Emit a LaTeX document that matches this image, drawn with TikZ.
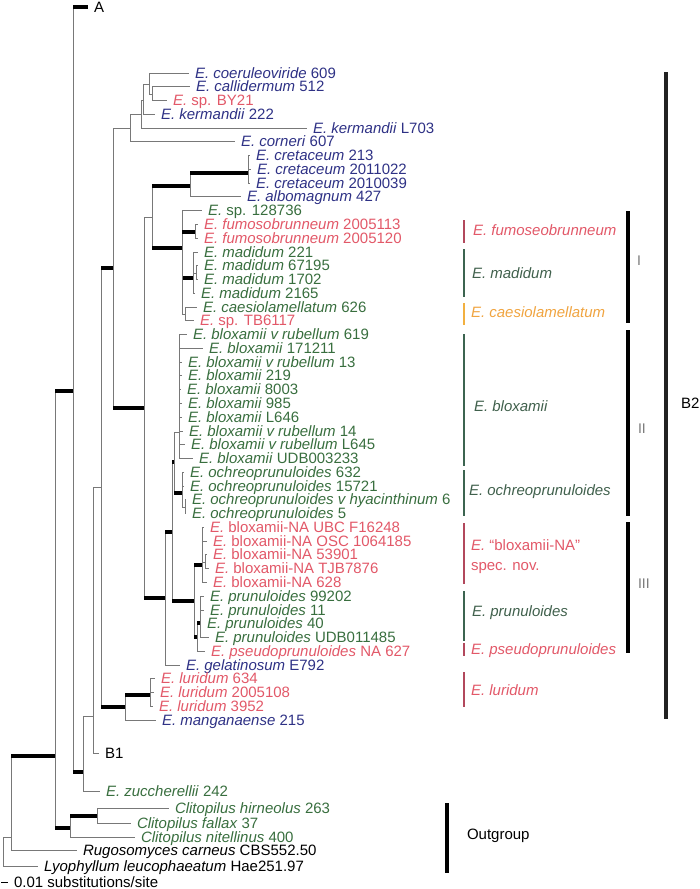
\documentclass[tikz,border=0pt]{standalone}
\usepackage{fontspec}
\setmainfont{Liberation Sans}
\usepackage{xcolor}
\usepackage{tikz}

\begin{document}
\begin{tikzpicture}[x=1pt,y=-1pt,every node/.style={inner ysep=0pt, outer sep=0pt, text height=11pt, text depth=1pt, font=\fontsize{15}{16}\selectfont},
  leaf/.style={anchor=west, inner xsep=6pt},
  grp/.style={anchor=west, inner xsep=0pt},
  br/.style={draw={rgb,255:red,120;green,120;blue,120}, line width=1pt},
  sup/.style={draw=black, line width=4pt},
  blu/.style={text={rgb,255:red,46;green,49;blue,133}},
  rd/.style={text={rgb,255:red,226;green,88;blue,104}},
  grn/.style={text={rgb,255:red,56;green,110;blue,62}},
  grg/.style={text={rgb,255:red,64;green,96;blue,76}},
  org/.style={text={rgb,255:red,240;green,164;blue,64}},
  rbar/.style={draw={rgb,255:red,178;green,72;blue,92}, line width=2pt},
  gbar/.style={draw={rgb,255:red,60;green,100;blue,80}, line width=2pt},
  obar/.style={draw={rgb,255:red,242;green,176;blue,64}, line width=2pt},
  kbar/.style={draw=black, line width=3.4pt},
  roman/.style={grp, text={rgb,255:red,120;green,120;blue,120}, font=\fontsize{14}{16}\selectfont}]
\useasboundingbox (0,0) rectangle (700,889);

\coordinate (R) at (3,851);
\coordinate (n11) at (11,837);
\coordinate (nO) at (55,756);
\coordinate (nAB) at (73,391);
\coordinate (nB) at (83,772);
\coordinate (nB2) at (93,716);
\coordinate (nC) at (101,487);
\coordinate (nD) at (113,268);
\coordinate (nE) at (130,128.5);
\coordinate (nE1) at (141,114.5);
\coordinate (nE2) at (143,100);
\coordinate (nE3) at (149,84);
\coordinate (nE4) at (152,94);
\coordinate (nF) at (144,408);
\coordinate (nG) at (152,217);
\coordinate (nCret) at (190,186);
\coordinate (nCret2) at (248,173);
\coordinate (nMad) at (182,248);
\coordinate (nFum) at (195,232);
\coordinate (nMd) at (193,278);
\coordinate (nMd2) at (196,273);
\coordinate (nCae) at (185,314);
\coordinate (nH) at (165,598);
\coordinate (nI) at (172,532);
\coordinate (nJ) at (174,462);
\coordinate (nBlox) at (179,432);
\coordinate (nOch) at (182,493);
\coordinate (nOch2) at (185,507);
\coordinate (nK) at (194,601);
\coordinate (nNA) at (202,565);
\coordinate (nNA2) at (205,562);
\coordinate (nP) at (197,637);
\coordinate (nP2) at (200,623);
\coordinate (nLur) at (125,707);
\coordinate (nLur2) at (150,695);
\coordinate (nClit) at (70,828);
\coordinate (nClit2) at (97,816);

\node[leaf] (A) at (88,7) {A};
\node[leaf,blu] (coe609) at (189,73) {\textit{E. coeruleoviride} 609};
\node[leaf,blu] (cal512) at (190,86.8) {\textit{E. callidermum} 512};
\node[leaf,rd] (spBY21) at (167,100.5) {\textit{E.} sp. BY21};
\node[leaf,blu] (ker222) at (155,114.3) {\textit{E. kermandii} 222};
\node[leaf,blu] (kerL703) at (307,128.1) {\textit{E. kermandii} L703};
\node[leaf,blu] (cor607) at (235,141.9) {\textit{E. corneri} 607};
\node[leaf,blu] (cre213) at (250,155.6) {\textit{E. cretaceum} 213};
\node[leaf,blu] (cre2011022) at (251,169.4) {\textit{E. cretaceum} 2011022};
\node[leaf,blu] (cre2010039) at (250,183.2) {\textit{E. cretaceum} 2010039};
\node[leaf,blu] (alb427) at (241,196.9) {\textit{E. albomagnum} 427};
\node[leaf,grn] (sp128736) at (202,210.7) {\textit{E.} sp. 128736};
\node[leaf,rd] (fum2005113) at (198,224.5) {\textit{E. fumosobrunneum} 2005113};
\node[leaf,rd] (fum2005120) at (198,238.2) {\textit{E. fumosobrunneum} 2005120};
\node[leaf,grn] (mad221) at (198,252) {\textit{E. madidum} 221};
\node[leaf,grn] (mad67195) at (198,265.8) {\textit{E. madidum} 67195};
\node[leaf,grn] (mad1702) at (198,279.6) {\textit{E. madidum} 1702};
\node[leaf,grn] (mad2165) at (195,293.3) {\textit{E. madidum} 2165};
\node[leaf,grn] (cae626) at (197,307.1) {\textit{E. caesiolamellatum} 626};
\node[leaf,rd] (spTB6117) at (194,320.9) {\textit{E.} sp. TB6117};
\node[leaf,grn] (blr619) at (187,334.6) {\textit{E. bloxamii v rubellum} 619};
\node[leaf,grn] (blo171211) at (203,348.4) {\textit{E. bloxamii} 171211};
\node[leaf,grn] (blr13) at (182,362.2) {\textit{E. bloxamii v rubellum} 13};
\node[leaf,grn] (blo219) at (182,375.9) {\textit{E. bloxamii} 219};
\node[leaf,grn] (blo8003) at (181,389.7) {\textit{E. bloxamii} 8003};
\node[leaf,grn] (blo985) at (182,403.5) {\textit{E. bloxamii} 985};
\node[leaf,grn] (bloL646) at (182,417.3) {\textit{E. bloxamii} L646};
\node[leaf,grn] (blr14) at (183,431) {\textit{E. bloxamii v rubellum} 14};
\node[leaf,grn] (blrL645) at (185,444.8) {\textit{E. bloxamii v rubellum} L645};
\node[leaf,grn] (bloUDB) at (193,458.6) {\textit{E. bloxamii} UDB003233};
\node[leaf,grn] (och632) at (184,472.3) {\textit{E. ochreoprunuloides} 632};
\node[leaf,grn] (och15721) at (184,486.1) {\textit{E. ochreoprunuloides} 15721};
\node[leaf,grn] (ochhya6) at (186,499.9) {\textit{E. ochreoprunuloides v hyacinthinum} 6};
\node[leaf,grn] (och5) at (186,513.6) {\textit{E. ochreoprunuloides} 5};
\node[leaf,rd] (naUBC) at (204,527.4) {\textit{E.} bloxamii-NA UBC F16248};
\node[leaf,rd] (naOSC) at (207,541.2) {\textit{E.} bloxamii-NA OSC 1064185};
\node[leaf,rd] (na53901) at (207,554.9) {\textit{E.} bloxamii-NA 53901};
\node[leaf,rd] (naTJB) at (209,568.7) {\textit{E.} bloxamii-NA TJB7876};
\node[leaf,rd] (na628) at (207,582.5) {\textit{E.} bloxamii-NA 628};
\node[leaf,grn] (pru99202) at (204,596.3) {\textit{E. prunuloides} 99202};
\node[leaf,grn] (pru11) at (204,610) {\textit{E. prunuloides} 11};
\node[leaf,grn] (pru40) at (201,623.8) {\textit{E. prunuloides} 40};
\node[leaf,grn] (pruUDB) at (209,637.6) {\textit{E. prunuloides} UDB011485};
\node[leaf,rd] (pse627) at (205,651.3) {\textit{E. pseudoprunuloides} NA 627};
\node[leaf,blu] (gelE792) at (180,665.1) {\textit{E. gelatinosum} E792};
\node[leaf,rd] (lur634) at (155,678.9) {\textit{E. luridum} 634};
\node[leaf,rd] (lur2005108) at (154,692.6) {\textit{E. luridum} 2005108};
\node[leaf,rd] (lur3952) at (153,706.4) {\textit{E. luridum} 3952};
\node[leaf,blu] (man215) at (156,720.2) {\textit{E. manganaense} 215};
\node[leaf] (B1) at (99,753) {B1};
\node[leaf,grn] (zuc242) at (100,791) {\textit{E. zuccherellii} 242};
\node[leaf,grn] (clihir) at (169,808.5) {\textit{Clitopilus hirneolus} 263};
\node[leaf,grn] (clifal) at (131,823) {\textit{Clitopilus fallax} 37};
\node[leaf,grn] (clinit) at (135,837.5) {\textit{Clitopilus nitellinus} 400};
\node[leaf] (rugo) at (77,850) {\textit{Rugosomyces carneus} CBS552.50};
\node[leaf] (lyo) at (38,866.5) {\textit{Lyophyllum leucophaeatum} Hae251.97};
\node[leaf] (scl) at (8,882.5) {0.01 substitutions/site};
\coordinate (scl0) at (1,882.5);

\draw[br] (R) |- (n11);
\draw[br] (R) |- (lyo.west);
\draw[br] (n11) |- (nO); \draw[sup] (n11 |- nO) -- (nO);
\draw[br] (n11) |- (rugo.west);
\draw[br] (nO) |- (nAB); \draw[sup] (nO |- nAB) -- (nAB);
\draw[br] (nO) |- (nClit); \draw[sup] (nO |- nClit) -- (nClit);
\draw[br] (nClit) |- (nClit2); \draw[sup] (nClit |- nClit2) -- (nClit2);
\draw[br] (nClit2) |- (clihir.west);
\draw[br] (nClit2) |- (clifal.west);
\draw[br] (nClit) |- (clinit.west);
\draw[br] (nAB) |- (A.west); \draw[sup] (nAB |- A.west) -- (A.west);
\draw[br] (nAB) |- (nB); \draw[sup] (nAB |- nB) -- (nB);
\draw[br] (nB) |- (nB2);
\draw[br] (nB) |- (zuc242.west);
\draw[br] (nB2) |- (nC);
\draw[br] (nB2) |- (B1.west);
\draw[br] (nC) |- (nD); \draw[sup] (nC |- nD) -- (nD);
\draw[br] (nC) |- (nLur); \draw[sup] (nC |- nLur) -- (nLur);
\draw[br] (nLur) |- (nLur2); \draw[sup] (nLur |- nLur2) -- (nLur2);
\draw[br] (nLur) |- (man215.west);
\draw[br] (nLur2) |- (lur634.west);
\draw[br] (nLur2) |- (lur2005108.west);
\draw[br] (nLur2) |- (lur3952.west);
\draw[br] (nD) |- (nE);
\draw[br] (nD) |- (nF); \draw[sup] (nD |- nF) -- (nF);
\draw[br] (nE) |- (nE1);
\draw[br] (nE) |- (cor607.west);
\draw[br] (nE1) |- (nE2);
\draw[br] (nE1) |- (kerL703.west);
\draw[br] (nE2) |- (nE3);
\draw[br] (nE2) |- (ker222.west);
\draw[br] (nE3) |- (coe609.west);
\draw[br] (nE3) |- (nE4);
\draw[br] (nE4) |- (cal512.west);
\draw[br] (nE4) |- (spBY21.west);
\draw[br] (nF) |- (nG);
\draw[br] (nF) |- (nH); \draw[sup] (nF |- nH) -- (nH);
\draw[br] (nG) |- (nCret); \draw[sup] (nG |- nCret) -- (nCret);
\draw[br] (nG) |- (nMad); \draw[sup] (nG |- nMad) -- (nMad);
\draw[br] (nCret) |- (nCret2); \draw[sup] (nCret |- nCret2) -- (nCret2);
\draw[br] (nCret) |- (alb427.west);
\draw[br] (nCret2) |- (cre213.west);
\draw[br] (nCret2) |- (cre2011022.west);
\draw[br] (nCret2) |- (cre2010039.west);
\draw[br] (nMad) |- (sp128736.west);
\draw[br] (nMad) |- (nFum); \draw[sup] (nMad |- nFum) -- (nFum);
\draw[br] (nMad) |- (nMd); \draw[sup] (nMad |- nMd) -- (nMd);
\draw[br] (nMad) |- (nCae);
\draw[br] (nFum) |- (fum2005113.west);
\draw[br] (nFum) |- (fum2005120.west);
\draw[br] (nMd) |- (mad221.west);
\draw[br] (nMd) |- (nMd2);
\draw[br] (nMd2) |- (mad67195.west);
\draw[br] (nMd2) |- (mad1702.west);
\draw[br] (nMd) |- (mad2165.west);
\draw[br] (nCae) |- (cae626.west);
\draw[br] (nCae) |- (spTB6117.west);
\draw[br] (nH) |- (nI); \draw[sup] (nH |- nI) -- (nI);
\draw[br] (nH) |- (gelE792.west);
\draw[br] (nI) |- (nJ); \draw[sup] (nI |- nJ) -- (nJ);
\draw[br] (nI) |- (nK); \draw[sup] (nI |- nK) -- (nK);
\draw[br] (nJ) |- (nBlox);
\draw[br] (nJ) |- (nOch); \draw[sup] (nJ |- nOch) -- (nOch);
\draw[br] (nBlox) |- (blr619.west);
\draw[br] (nBlox) |- (blo171211.west);
\draw[br] (nBlox) |- (blr13.west);
\draw[br] (nBlox) |- (blo219.west);
\draw[br] (nBlox) |- (blo8003.west);
\draw[br] (nBlox) |- (blo985.west);
\draw[br] (nBlox) |- (bloL646.west);
\draw[br] (nBlox) |- (blr14.west);
\draw[br] (nBlox) |- (blrL645.west);
\draw[br] (nBlox) |- (bloUDB.west);
\draw[br] (nOch) |- (och632.west);
\draw[br] (nOch) |- (och15721.west);
\draw[br] (nOch) |- (nOch2);
\draw[br] (nOch2) |- (ochhya6.west);
\draw[br] (nOch2) |- (och5.west);
\draw[br] (nK) |- (nNA); \draw[sup] (nK |- nNA) -- (nNA);
\draw[br] (nK) |- (nP); \draw[sup] (nK |- nP) -- (nP);
\draw[br] (nNA) |- (naUBC.west);
\draw[br] (nNA) |- (naOSC.west);
\draw[br] (nNA) |- (nNA2);
\draw[br] (nNA2) |- (na53901.west);
\draw[br] (nNA2) |- (naTJB.west);
\draw[br] (nNA) |- (na628.west);
\draw[br] (nP) |- (nP2); \draw[sup] (nP |- nP2) -- (nP2);
\draw[br] (nP) |- (pse627.west);
\draw[br] (nP2) |- (pru99202.west);
\draw[br] (nP2) |- (pru11.west);
\draw[br] (nP2) |- (pru40.west);
\draw[br] (nP2) |- (pruUDB.west);
\draw[br,draw=black] (scl0) -- (scl.west);

\draw[rbar] (463.5,220) -- (463.5,243);
\draw[gbar] (463.5,249) -- (463.5,297);
\draw[obar] (463.5,303) -- (463.5,325);
\draw[gbar] (463.5,334) -- (463.5,466);
\draw[gbar] (463.5,470) -- (463.5,516);
\draw[rbar] (463.5,523) -- (463.5,584);
\draw[gbar] (463.5,591) -- (463.5,641);
\draw[rbar] (463.5,643) -- (463.5,656);
\draw[rbar] (463.5,672) -- (463.5,707);
\node[grp,rd] (gfum) at (473,230) {\textit{E. fumoseobrunneum}};
\node[grp,grg] (gmad) at (472,273) {\textit{E. madidum}};
\node[grp,org] (gcae) at (471,312) {\textit{E. caesiolamellatum}};
\node[grp,grg] (gblo) at (474,406) {\textit{E. bloxamii}};
\node[grp,grg] (goch) at (469,490) {\textit{E. ochreoprunuloides}};
\node[grp,rd] (gna) at (471,545) {\textit{E.} “bloxamii-NA”};
\node[grp,rd] (gnb) at (471,565) {spec. nov.};
\node[grp,grg] (gpru) at (472,611) {\textit{E. prunuloides}};
\node[grp,rd] (gpse) at (471,649) {\textit{E. pseudoprunuloides}};
\node[grp,rd] (glur) at (471,690) {\textit{E. luridum}};

\draw[kbar] (628,211) -- (628,323);
\draw[kbar] (628,330) -- (628,516);
\draw[kbar] (628,522) -- (628,653);
\node[roman] (cI) at (637,260) {I};
\node[roman] (cII) at (638,428) {II};
\node[roman] (cIII) at (638,583) {III};
\draw[draw={rgb,255:red,34;green,34;blue,34}, line width=4pt] (666,72) -- (666,719);
\node[grp] (cB2) at (681,403) {B2};
\draw[kbar] (447,803) -- (447,873);
\node[grp] (out) at (467,834) {Outgroup};
\end{tikzpicture}
\end{document}
